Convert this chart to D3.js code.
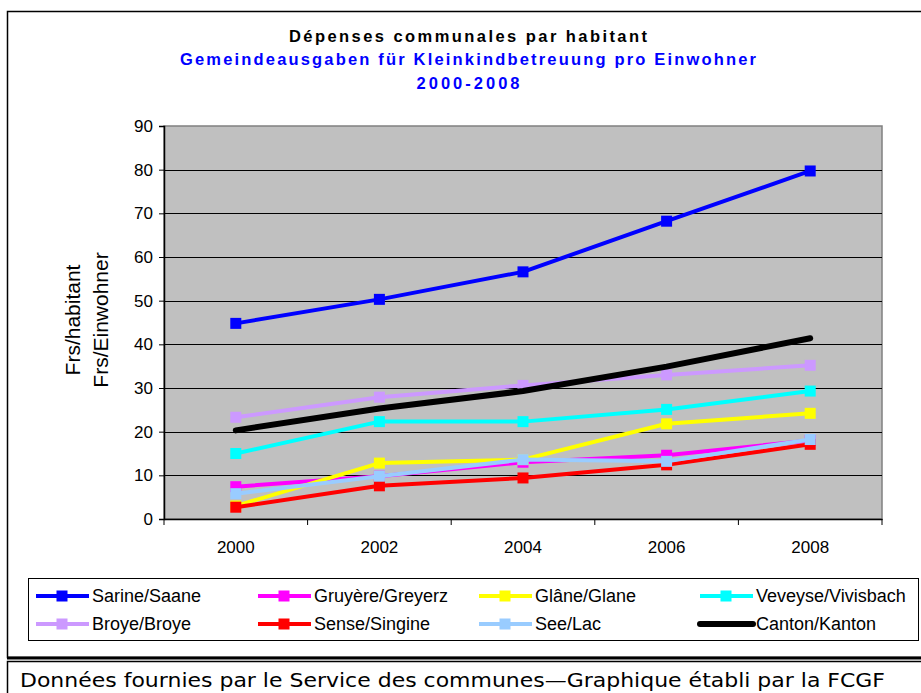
<!DOCTYPE html>
<html><head><meta charset="utf-8">
<script src="https://cdn.jsdelivr.net/npm/d3@7"></script>
<style>body{margin:0;background:#fff}svg{display:block}</style>
</head><body>
<svg id="c" width="921" height="693"></svg>
<script>
const years = ["2000","2002","2004","2006","2008"];
const yTicks = [0,10,20,30,40,50,60,70,80,90];
const seriesNames = ["Sarine/Saane","Gruyère/Greyerz","Glâne/Glane","Veveyse/Vivisbach","Broye/Broye","Sense/Singine","See/Lac","Canton/Kanton"];
const seriesColors = ["#0000FF","#FF00FF","#FFFF00","#00FFFF","#CC99FF","#FF0000","#99CCFF","#000000"];
const sarine   = [44.8, 50.3, 56.6, 68.2, 79.7];
const gruyere  = [7.4, 9.8, 13.0, 14.6, 18.0];
const glane    = [3.0, 12.8, 13.6, 21.8, 24.2];
const veveyse  = [15.0, 22.3, 22.3, 25.1, 29.3];
const broye    = [23.3, 27.9, 30.6, 33.0, 35.2];
const sense    = [2.7, 7.6, 9.4, 12.4, 17.1];
const seelac   = [5.8, 9.8, 13.6, 13.2, 18.2];
const canton   = [20.3, 25.3, 29.3, 34.9, 41.4];
const seriesValues = [sarine, gruyere, glane, veveyse, broye, sense, seelac, canton];
const titles = ["Dépenses communales par habitant","Gemeindeausgaben für Kleinkindbetreuung pro Einwohner","2000-2008"];
const yTitle = ["Frs/habitant","Frs/Einwohner"];
const footer = "Données fournies par le Service des communes\u2014Graphique établi par la FCGF";

const svg = d3.select("#c");
const F = "'Liberation Sans', Arial, sans-serif";

// outer frames
svg.append("rect").attr("x",7.5).attr("y",11.5).attr("width",930).attr("height",646).attr("fill","#fff").attr("stroke","#000").attr("stroke-width",1.5);
svg.append("line").attr("x1",7).attr("x2",921).attr("y1",658).attr("y2",658).attr("stroke","#000").attr("stroke-width",3);
svg.append("rect").attr("x",7.5).attr("y",661.5).attr("width",930).attr("height",60).attr("fill","#fff").attr("stroke","#000").attr("stroke-width",1.5);

// titles
const tcol = ["#000","#0000FF","#0000FF"];
const ty = [42, 65, 89];
const tw = [358, 576, 103];
titles.forEach((t,i)=>{
  svg.append("text").attr("x",468).attr("y",ty[i]).attr("text-anchor","middle")
    .attr("font-family",F).attr("font-weight","bold").attr("font-size",16.5)
    .attr("textLength",tw[i]).attr("lengthAdjust","spacing").attr("fill",tcol[i]).text(t);
});

const L=164, R=882, T=126, B=519;
const x = d3.scaleBand().domain(years).range([L,R]);
const y = d3.scaleLinear().domain([0,90]).range([B,T]);

svg.append("rect").attr("x",L).attr("y",T).attr("width",R-L).attr("height",B-T).attr("fill","#C0C0C0").attr("stroke","#808080").attr("stroke-width",1.5);

// gridlines
svg.append("g").selectAll("line").data(yTicks.filter(d=>d>0&&d<90)).join("line")
  .attr("x1",L).attr("x2",R).attr("y1",d=>Math.round(y(d))+0.5).attr("y2",d=>Math.round(y(d))+0.5)
  .attr("stroke","#000").attr("stroke-width",1);

// y axis
const ya = svg.append("g").attr("transform",`translate(${L},0)`)
  .call(d3.axisLeft(y).tickValues(yTicks).tickSize(5).tickPadding(6));
ya.selectAll("text").attr("font-family",F).attr("font-size",17).attr("fill","#000");
ya.select(".domain").attr("stroke","#000").attr("stroke-width",1.5);

// x axis
const xa = svg.append("g").attr("transform",`translate(0,${B})`)
  .call(d3.axisBottom(x).tickSize(0).tickPadding(22));
xa.selectAll("text").attr("font-family",F).attr("font-size",17).attr("fill","#000");
xa.select(".domain").attr("stroke","#000").attr("stroke-width",1.5);
const bounds = years.map(d=>x(d)).concat([R]);
svg.append("g").selectAll("line").data(bounds).join("line")
  .attr("x1",d=>d).attr("x2",d=>d).attr("y1",B).attr("y2",B+6).attr("stroke","#000");

// y title
yTitle.forEach((t,i)=>{
  svg.append("text").attr("transform",`translate(${80+i*28},320) rotate(-90)`)
    .attr("text-anchor","middle").attr("font-family",F).attr("font-size",21).attr("fill","#000").text(t);
});

// series
const line = d3.line().x((d,i)=>x(years[i])+x.bandwidth()/2).y(d=>y(d));
seriesValues.forEach((vals,si)=>{
  const g = svg.append("g");
  const isCanton = si===7;
  g.append("path").attr("d",line(vals)).attr("fill","none").attr("stroke",seriesColors[si])
    .attr("stroke-width",isCanton?6:4).attr("stroke-linecap",isCanton?"round":"butt").attr("stroke-linejoin","round");
  if(!isCanton){
    g.selectAll("rect").data(vals).join("rect")
      .attr("x",(d,i)=>x(years[i])+x.bandwidth()/2-5.5).attr("y",d=>y(d)-5.5)
      .attr("width",11).attr("height",11).attr("fill",seriesColors[si]);
  }
});

// legend
svg.append("rect").attr("x",28.5).attr("y",578.5).attr("width",890).attr("height",62).attr("fill","#fff").attr("stroke","#000").attr("stroke-width",1);
const colX = [36,258,479,700];
const rowY = [596,624];
seriesNames.forEach((n,i)=>{
  const cx = colX[i%4], cy = rowY[Math.floor(i/4)];
  const g = svg.append("g");
  const isCanton = i===7;
  g.append("line").attr("x1",cx).attr("x2",cx+53).attr("y1",cy).attr("y2",cy)
    .attr("stroke",seriesColors[i]).attr("stroke-width",isCanton?6:4).attr("stroke-linecap",isCanton?"round":"butt");
  if(!isCanton) g.append("rect").attr("x",cx+26-5.5).attr("y",cy-5.5).attr("width",11).attr("height",11).attr("fill",seriesColors[i]);
  g.append("text").attr("x",cx+56).attr("y",cy+6).attr("font-family",F).attr("font-size",18).attr("fill","#000").text(n);
});

// footer
svg.append("text").attr("x",20).attr("y",687).attr("font-family","'DejaVu Sans', Verdana, sans-serif").attr("font-size",19)
  .attr("textLength",865).attr("lengthAdjust","spacingAndGlyphs").attr("fill","#000").text(footer);
</script>
</body></html>
